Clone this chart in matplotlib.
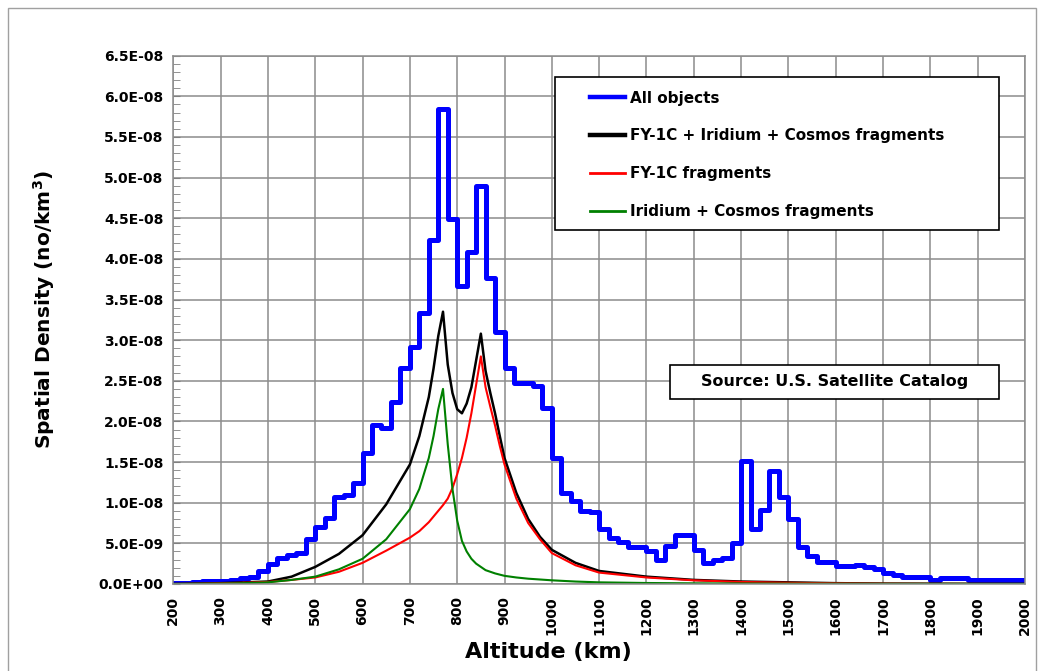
import numpy as np
import matplotlib
matplotlib.use("Agg")
import matplotlib.pyplot as plt
from matplotlib.patches import Rectangle
from matplotlib.ticker import MultipleLocator, FuncFormatter

# all objects: 20 km altitude bins from 200 to 2000 km, units of 1e-8 per km^3
bin_start = 200
bin_width = 20
all_objects = [0.01, 0.01, 0.02, 0.04, 0.04, 0.04, 0.05, 0.07, 0.09, 0.16,
               0.25, 0.32, 0.36, 0.38, 0.55, 0.70, 0.81, 1.07, 1.09, 1.24,
               1.61, 1.95, 1.92, 2.24, 2.66, 2.91, 3.34, 4.23, 5.85, 4.49,
               3.67, 4.09, 4.90, 3.77, 3.10, 2.66, 2.47, 2.47, 2.44, 2.17,
               1.55, 1.12, 1.02, 0.90, 0.88, 0.68, 0.56, 0.52, 0.46, 0.46,
               0.40, 0.30, 0.47, 0.60, 0.60, 0.42, 0.26, 0.30, 0.32, 0.50,
               1.51, 0.68, 0.91, 1.39, 1.07, 0.80, 0.45, 0.34, 0.27, 0.27,
               0.22, 0.22, 0.23, 0.21, 0.18, 0.13, 0.11, 0.08, 0.08, 0.08,
               0.05, 0.07, 0.07, 0.07, 0.05, 0.05, 0.05, 0.05, 0.05, 0.05]

# fragment curves
curve_alt = [200, 250, 300, 350, 400, 450, 500, 550, 600, 650, 700, 720, 740, 750,
             760, 770, 780, 790, 800, 810, 820, 830, 840, 850, 860, 870, 880, 890,
             900, 925, 950, 975, 1000, 1050, 1100, 1200, 1300, 1400, 1500, 1600,
             1700, 1800, 1900, 2000]
fy_ir_cos = [0.0, 0.005, 0.01, 0.02, 0.03, 0.09, 0.21, 0.37, 0.60, 0.98, 1.47, 1.82, 2.30, 2.65,
             3.05, 3.35, 2.70, 2.35, 2.15, 2.10, 2.22, 2.42, 2.75, 3.08, 2.62, 2.35, 2.10, 1.82,
             1.55, 1.12, 0.80, 0.58, 0.42, 0.26, 0.16, 0.09, 0.05, 0.03, 0.02, 0.01,
             0.005, 0.003, 0.002, 0.001]
fy1c = [0.0, 0.003, 0.008, 0.015, 0.025, 0.05, 0.08, 0.15, 0.26, 0.41, 0.57, 0.65, 0.76, 0.83,
        0.90, 0.97, 1.05, 1.18, 1.35, 1.55, 1.80, 2.10, 2.45, 2.80, 2.42, 2.18, 1.95, 1.70,
        1.47, 1.05, 0.75, 0.55, 0.38, 0.23, 0.14, 0.08, 0.045, 0.025, 0.015, 0.008,
        0.004, 0.002, 0.001, 0.0]
ir_cos = [0.0, 0.003, 0.005, 0.01, 0.02, 0.05, 0.09, 0.18, 0.31, 0.55, 0.92, 1.17, 1.55, 1.82,
          2.15, 2.40, 1.72, 1.17, 0.78, 0.53, 0.40, 0.31, 0.25, 0.21, 0.17, 0.15, 0.13, 0.115,
          0.10, 0.08, 0.065, 0.055, 0.045, 0.03, 0.02, 0.012, 0.008, 0.006, 0.004, 0.003,
          0.002, 0.002, 0.001, 0.001]

labels = ["All objects", "FY-1C + Iridium + Cosmos fragments", "FY-1C fragments",
          "Iridium + Cosmos fragments"]
x_ticks = list(range(200, 2001, 100))

scale = 1e-8
edges = bin_start + bin_width * np.arange(len(all_objects) + 1)
blue_y = np.array(all_objects + [all_objects[-1]]) * scale

fig = plt.figure(figsize=(10.42, 6.71), dpi=100)
ax = fig.add_axes([0.1663, 0.1297, 0.8174, 0.7873])

ax.step(edges, blue_y, where="post", color="#0000ff", lw=3.6, label=labels[0])
ax.plot(curve_alt, np.array(fy_ir_cos) * scale, color="black", lw=1.8, label=labels[1])
ax.plot(curve_alt, np.array(fy1c) * scale, color="#ff0000", lw=1.5, label=labels[2])
ax.plot(curve_alt, np.array(ir_cos) * scale, color="#008000", lw=1.5, label=labels[3])

ax.set_xlim(200, 2000)
ax.set_ylim(0, 6.5e-8)
ax.set_xticks(x_ticks)
ax.set_xticklabels([str(t) for t in x_ticks], rotation=90, fontsize=10, fontweight="bold")
ax.yaxis.set_major_locator(MultipleLocator(0.5e-8))
ax.yaxis.set_minor_locator(MultipleLocator(0.1e-8))
ax.yaxis.set_major_formatter(FuncFormatter(lambda v, p: "%.1E" % v))
for t in ax.get_yticklabels():
    t.set_fontweight("bold")
ax.tick_params(axis="y", which="both", direction="in", length=5, color="#808080",
               labelsize=10, pad=7)
ax.tick_params(axis="x", length=0, pad=9)
ax.grid(True, which="major", color="#8c8c8c", lw=1.1)
ax.set_axisbelow(True)
for s in ax.spines.values():
    s.set_color("#8c8c8c")
    s.set_linewidth(1.1)

ax.set_xlabel("Altitude (km)", fontsize=16, fontweight="bold")
ax.xaxis.set_label_coords(0.44, -0.11)
ax.set_ylabel(r"Spatial Density (no/km$^{\mathbf{3}}$)", fontsize=14.5, fontweight="bold")
ax.yaxis.set_label_coords(-0.137, 0.52)

# legend box
ax.add_patch(Rectangle((0.448, 0.670), 0.522, 0.290, transform=ax.transAxes,
                       facecolor="white", edgecolor="black", lw=1.2, zorder=4))
leg = ax.legend(loc="upper left", bbox_to_anchor=(0.489, 0.934), borderaxespad=0,
                borderpad=0, frameon=False, handlelength=2.3, handletextpad=0.35,
                labelspacing=1.5, prop={"size": 11, "weight": "bold"})
leg.set_zorder(5)
for h, w in zip(leg.get_lines(), [3.2, 3.2, 2.0, 2.0]):
    h.set_linewidth(w)

# source box
ax.add_patch(Rectangle((0.583, 0.351), 0.387, 0.064, transform=ax.transAxes,
                       facecolor="white", edgecolor="black", lw=1.2, zorder=4))
ax.text(0.776, 0.384, "Source: U.S. Satellite Catalog", transform=ax.transAxes,
        ha="center", va="center", fontsize=11.5, fontweight="bold", zorder=5)

# outer frame
fig.patches.append(Rectangle((8 / 1042, -0.1), 1028 / 1042, 1.1 - 8 / 671,
                             transform=fig.transFigure, fill=False,
                             edgecolor="#a0a0a0", lw=1))

fig.patch.set_facecolor("white")
fig.savefig("out.png", dpi=100)
